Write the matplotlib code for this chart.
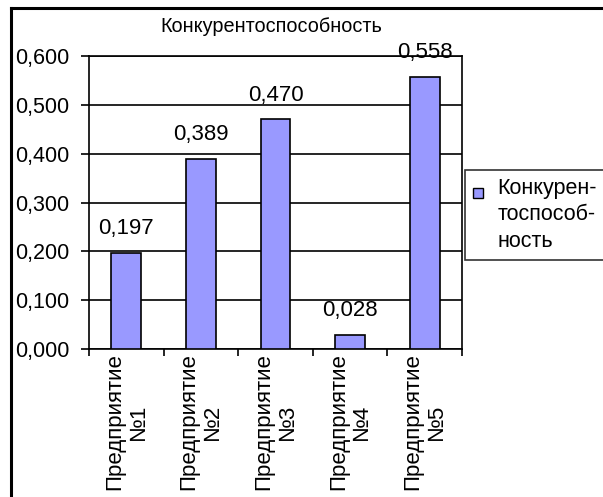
import matplotlib
matplotlib.use("Agg")
import matplotlib.pyplot as plt
from matplotlib.lines import Line2D
from matplotlib.patches import Patch, Rectangle
import numpy as np

categories = ["Предприятие\n№1", "Предприятие\n№2", "Предприятие\n№3", "Предприятие\n№4", "Предприятие\n№5"]
values = [0.197, 0.389, 0.470, 0.028, 0.558]
value_labels = ["0,197", "0,389", "0,470", "0,028", "0,558"]
yticks = [0.0, 0.1, 0.2, 0.3, 0.4, 0.5, 0.6]
ytick_labels = ["0,000", "0,100", "0,200", "0,300", "0,400", "0,500", "0,600"]
series_name = "Конкурен-\nтоспособ-\nность"
title = "Конкурентоспособность"

plt.rcParams['font.family'] = ['Liberation Sans', 'DejaVu Sans']
FS = 15.5
BAR_COLOR = "#9999FF"

W, H = 603, 497
fig = plt.figure(figsize=(W / 100, H / 100), dpi=100)
ax = fig.add_axes([89 / W, 1 - 349 / H, (462 - 89) / W, (349 - 56) / H])

x = np.arange(len(values))
ax.bar(x, values, width=0.4, color=BAR_COLOR, edgecolor="black", linewidth=1.2, zorder=3)
ax.set_xlim(-0.5, len(values) - 0.5)
ax.set_ylim(0, 0.6)
ax.set_yticks(yticks)
ax.set_yticklabels(ytick_labels, fontsize=FS)
ax.yaxis.grid(True, color="black", linewidth=1.2, zorder=0)
ax.set_xticks(x)
ax.set_xticklabels(categories, rotation=90, fontsize=16, ha="center", va="top",
                   multialignment="center", linespacing=1.15)
ax.tick_params(axis="x", which="major", length=0, pad=3)
ax.set_xticks(np.arange(-0.5, len(values), 1.0), minor=True)
ax.tick_params(axis="x", which="minor", length=5, width=1.2, direction="out")
ax.tick_params(axis="y", length=6, width=1.2, direction="out", pad=8)
for s in ax.spines.values():
    s.set_linewidth(1.2)
    s.set_color("black")

for xi, v, lab in zip(x, values, value_labels):
    ax.annotate(lab, (xi, v), xytext=(0, 10), textcoords="offset points",
                ha="center", va="bottom", fontsize=16, zorder=4)

fig.text(271 / W, 1 - 27 / H, title, ha="center", va="center", fontsize=14.3)

# outer chart border
fig.add_artist(Line2D([11 / W, 11 / W], [0, 1 - 8 / H], transform=fig.transFigure, color="black", linewidth=2.2))
fig.add_artist(Line2D([11 / W, 1], [1 - 8 / H, 1 - 8 / H], transform=fig.transFigure, color="black", linewidth=2.2))


class TopSquareHandler:
    def legend_artist(self, legend, orig_handle, fontsize, handlebox):
        x0, y0 = handlebox.xdescent, handlebox.ydescent
        w, h = handlebox.width, handlebox.height
        s = 0.5 * fontsize
        p = Rectangle((-x0, -y0 + h - s), s, s, facecolor=BAR_COLOR, edgecolor="black",
                      linewidth=1.0, transform=handlebox.get_transform())
        handlebox.add_artist(p)
        return p


handle = Patch(facecolor=BAR_COLOR, edgecolor="black")
leg = fig.legend([handle], [series_name], loc="upper left",
                 bbox_to_anchor=(465 / W, 1 - 170 / H), fontsize=FS, frameon=True,
                 fancybox=False, edgecolor="black", handlelength=0.6, handleheight=3.8,
                 handletextpad=0.55, borderpad=0.35, borderaxespad=0,
                 handler_map={Patch: TopSquareHandler()})
leg.get_frame().set_linewidth(1.2)
for t in leg.get_texts():
    t.set_linespacing(1.36)

fig.savefig("out.png", dpi=100)
